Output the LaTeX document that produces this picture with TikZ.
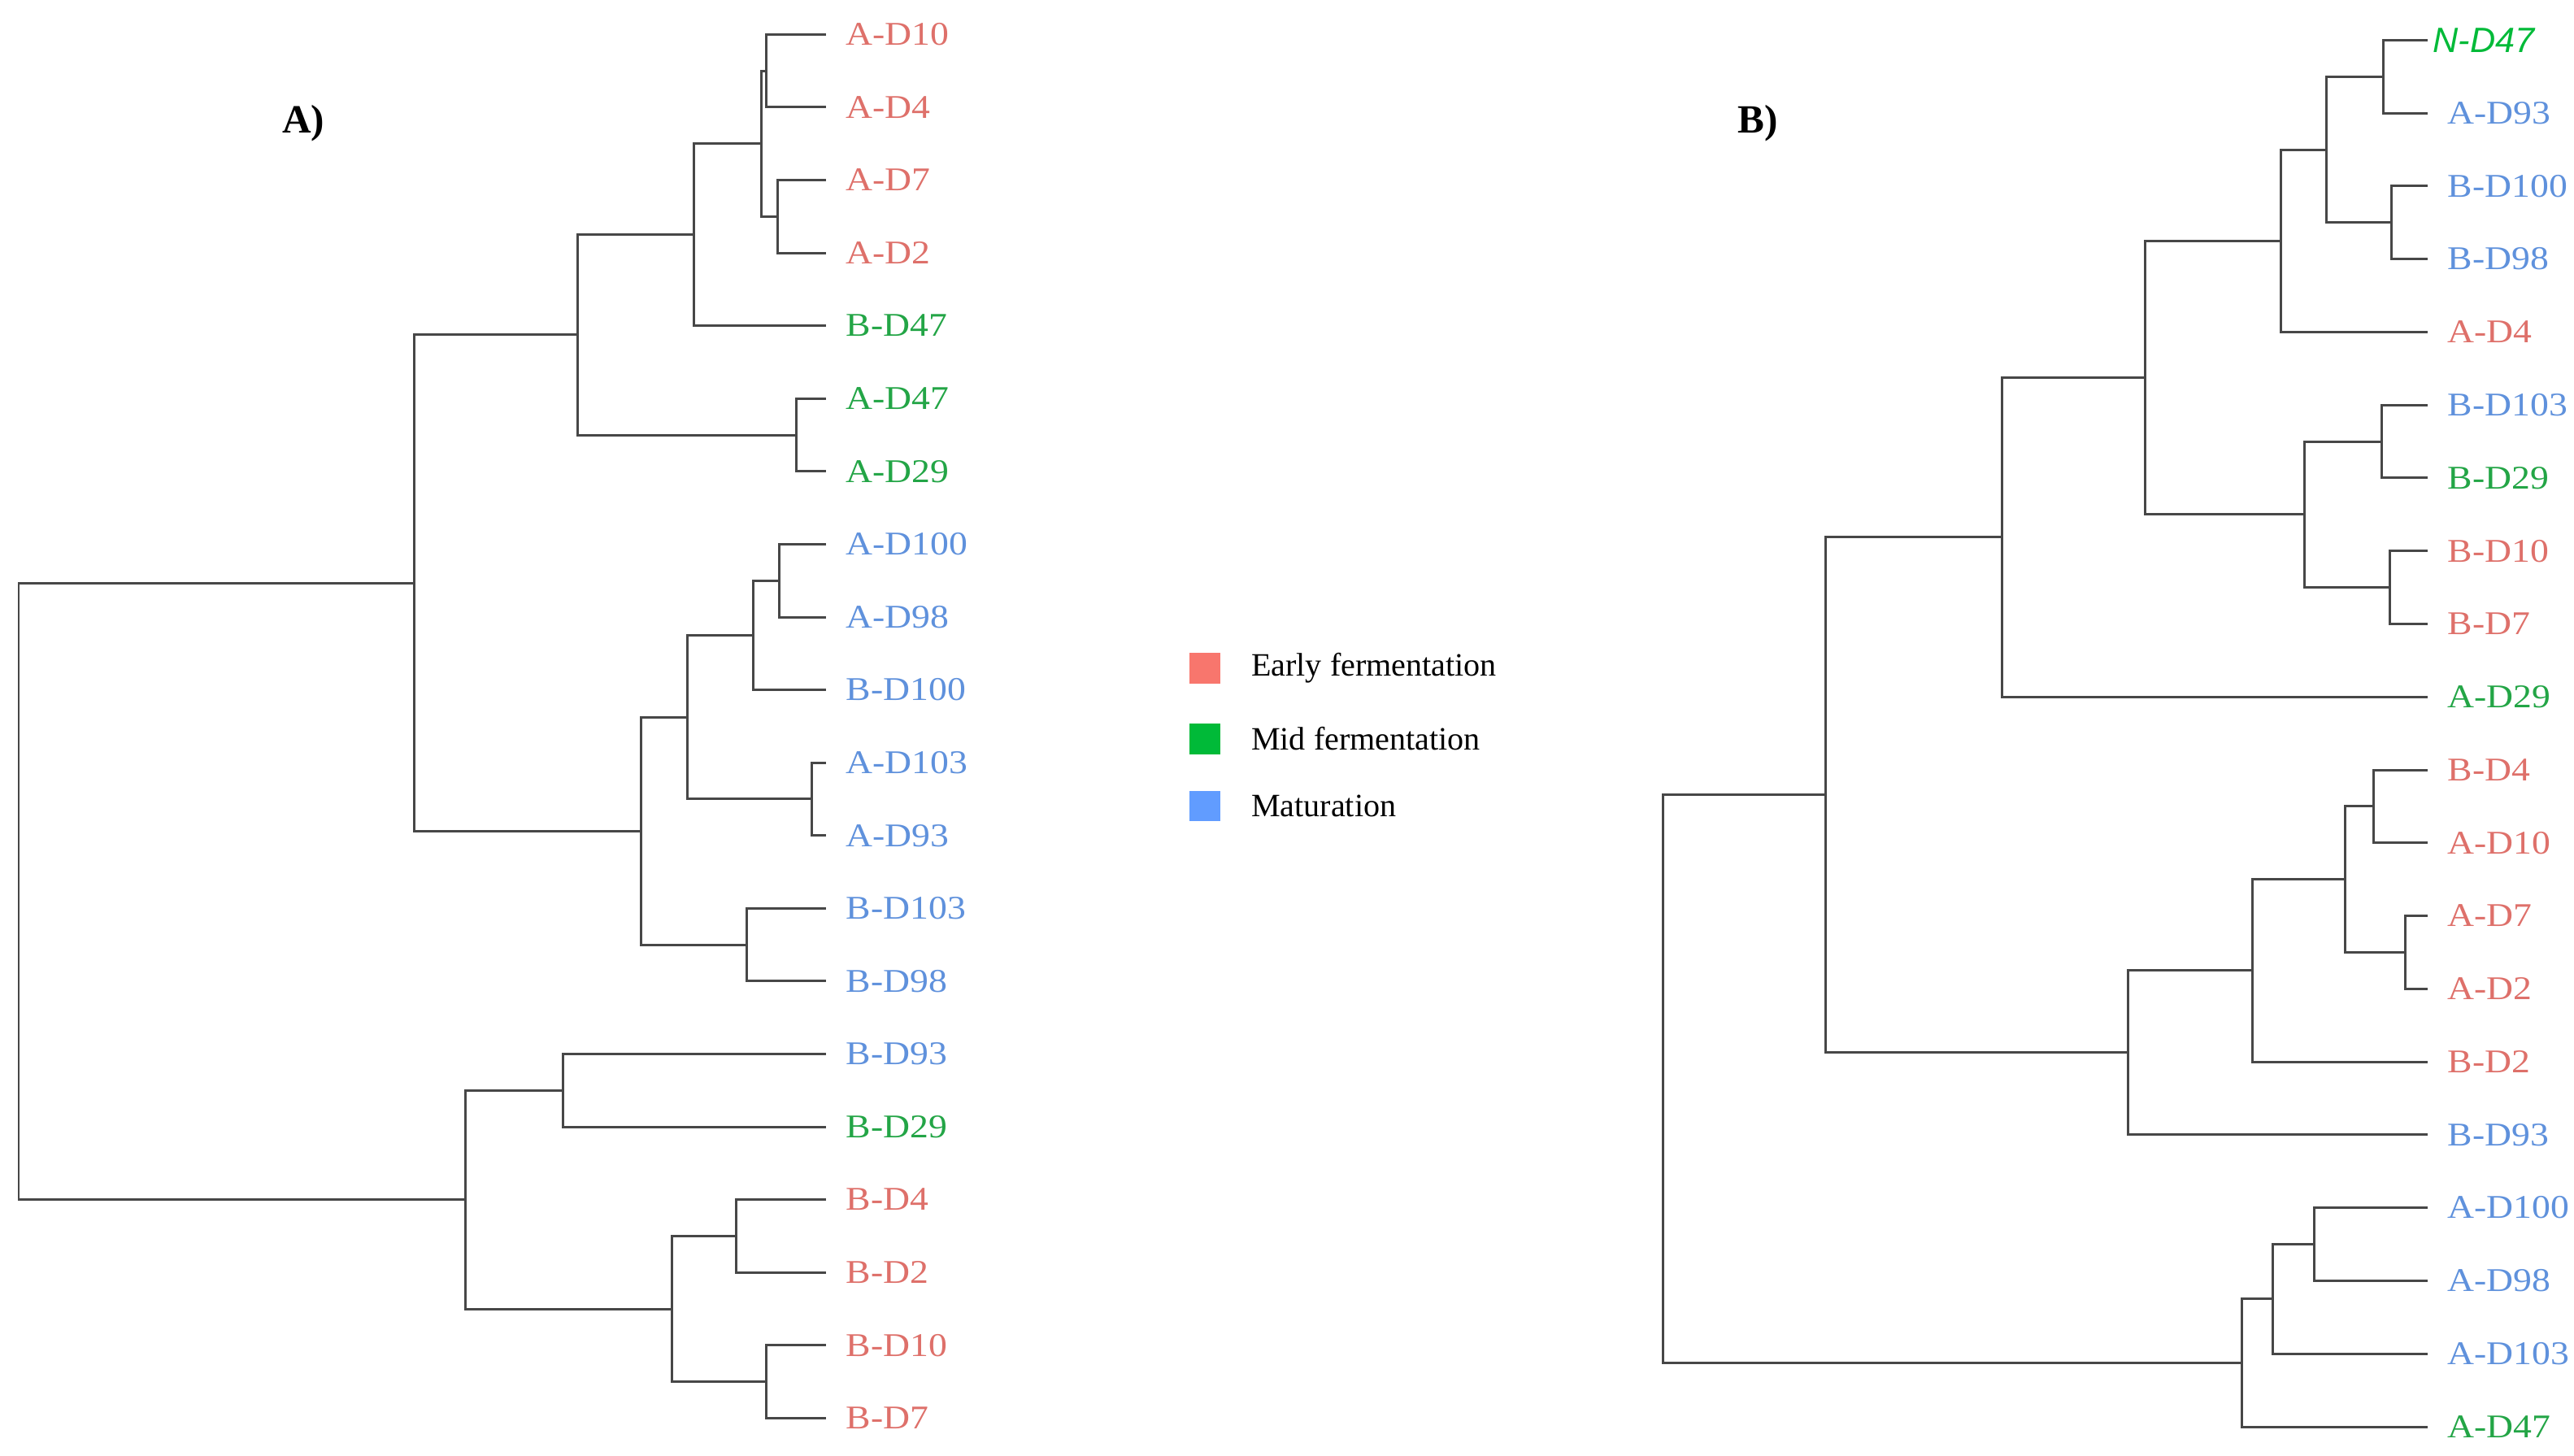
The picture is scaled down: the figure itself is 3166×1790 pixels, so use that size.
\documentclass[tikz,border=0pt]{standalone}
\usepackage{fontspec}
\setmainfont{Liberation Serif}
\newfontfamily\leaffont{Liberation Serif}[FakeStretch=1.12]
\newfontfamily\ndfont{Liberation Sans}
\usetikzlibrary{positioning}
\definecolor{early}{RGB}{222,112,106}
\definecolor{mid}{RGB}{35,165,70}
\definecolor{mat}{RGB}{95,145,220}
\definecolor{earlyfill}{RGB}{248,118,109}
\definecolor{midfill}{RGB}{0,186,56}
\definecolor{matfill}{RGB}{97,156,255}

\begin{document}
\begin{tikzpicture}[x=0.01cm,y=-0.01cm,
  branch/.style={draw=black!72,line width=0.85pt},
  leaf/.style={anchor=west,inner xsep=0.24cm,inner ysep=0pt,font=\leaffont\fontsize{11.6}{13}\selectfont},
  swatch/.style={minimum size=0.375cm,inner sep=0pt},
  keytext/.style={inner sep=0pt,font=\fontsize{11.4}{13}\selectfont},
  title/.style={font=\bfseries\fontsize{14}{16}\selectfont}]
\useasboundingbox (0,0) rectangle (3166,1790);

% titles
\node [title] (titA) at (373,152) {A)};
\node [title] (titB) at (2162,152) {B)};

% tree A, leaves
\node [leaf,text=early] (aAD10) at (1016,42.3) {A-D10};
\node [leaf,text=early] (aAD4) at (1016,131.9) {A-D4};
\node [leaf,text=early] (aAD7) at (1016,221.5) {A-D7};
\node [leaf,text=early] (aAD2) at (1016,311.0) {A-D2};
\node [leaf,text=mid] (aBD47) at (1016,400.6) {B-D47};
\node [leaf,text=mid] (aAD47) at (1016,490.2) {A-D47};
\node [leaf,text=mid] (aAD29) at (1016,579.8) {A-D29};
\node [leaf,text=mat] (aAD100) at (1016,669.4) {A-D100};
\node [leaf,text=mat] (aAD98) at (1016,759.0) {A-D98};
\node [leaf,text=mat] (aBD100) at (1016,848.5) {B-D100};
\node [leaf,text=mat] (aAD103) at (1016,938.1) {A-D103};
\node [leaf,text=mat] (aAD93) at (1016,1027.7) {A-D93};
\node [leaf,text=mat] (aBD103) at (1016,1117.3) {B-D103};
\node [leaf,text=mat] (aBD98) at (1016,1206.8) {B-D98};
\node [leaf,text=mat] (aBD93) at (1016,1296.4) {B-D93};
\node [leaf,text=mid] (aBD29) at (1016,1386.0) {B-D29};
\node [leaf,text=early] (aBD4) at (1016,1475.6) {B-D4};
\node [leaf,text=early] (aBD2) at (1016,1565.2) {B-D2};
\node [leaf,text=early] (aBD10) at (1016,1654.7) {B-D10};
\node [leaf,text=early] (aBD7) at (1016,1744.3) {B-D7};

% tree A, joins
\coordinate (aN1) at (942,87.1);
\coordinate (aN2) at (956,266.3);
\coordinate (aN3) at (936,176.7);
\coordinate (aN4) at (853,288.7);
\coordinate (aN5) at (979,535.0);
\coordinate (aN6) at (710,411.8);
\coordinate (aN7) at (958,714.2);
\coordinate (aN8) at (926,781.4);
\coordinate (aN9) at (998,982.9);
\coordinate (aN10) at (845,882.1);
\coordinate (aN11) at (918,1162.1);
\coordinate (aN12) at (788,1022.1);
\coordinate (aN13) at (509,717.0);
\coordinate (aN14) at (692,1341.2);
\coordinate (aN15) at (905,1520.4);
\coordinate (aN16) at (942,1699.5);
\coordinate (aN17) at (826,1610.0);
\coordinate (aN18) at (572,1475.6);
\coordinate (aRoot) at (23,1096.3);

\draw [branch] (aN1) |- (aAD10.west) (aN1) |- (aAD4.west);
\draw [branch] (aN2) |- (aAD7.west) (aN2) |- (aAD2.west);
\draw [branch] (aN3) |- (aN1) (aN3) |- (aN2);
\draw [branch] (aN4) |- (aN3) (aN4) |- (aBD47.west);
\draw [branch] (aN5) |- (aAD47.west) (aN5) |- (aAD29.west);
\draw [branch] (aN6) |- (aN4) (aN6) |- (aN5);
\draw [branch] (aN7) |- (aAD100.west) (aN7) |- (aAD98.west);
\draw [branch] (aN8) |- (aN7) (aN8) |- (aBD100.west);
\draw [branch] (aN9) |- (aAD103.west) (aN9) |- (aAD93.west);
\draw [branch] (aN10) |- (aN8) (aN10) |- (aN9);
\draw [branch] (aN11) |- (aBD103.west) (aN11) |- (aBD98.west);
\draw [branch] (aN12) |- (aN10) (aN12) |- (aN11);
\draw [branch] (aN13) |- (aN6) (aN13) |- (aN12);
\draw [branch] (aN14) |- (aBD93.west) (aN14) |- (aBD29.west);
\draw [branch] (aN15) |- (aBD4.west) (aN15) |- (aBD2.west);
\draw [branch] (aN16) |- (aBD10.west) (aN16) |- (aBD7.west);
\draw [branch] (aN17) |- (aN15) (aN17) |- (aN16);
\draw [branch] (aN18) |- (aN14) (aN18) |- (aN17);
\draw [branch] (aRoot) |- (aN13) (aRoot) |- (aN18);

% legend
\node [swatch,fill=earlyfill] (swEarly) at (1482,822) {};
\node [swatch,fill=midfill] (swMid) at (1482,909) {};
\node [swatch,fill=matfill] (swMat) at (1482,991.5) {};
\node [keytext,right=0.37cm of swEarly] (txEarly) {Early fermentation};
\node [keytext,right=0.37cm of swMid] (txMid) {Mid fermentation};
\node [keytext,right=0.37cm of swMat] (txMat) {Maturation};

% tree B, leaves
\node [leaf,inner xsep=0.06cm,text=midfill,font=\ndfont\itshape\fontsize{12.3}{14}\selectfont] (bND47) at (2986,49.3) {N-D47};
\node [leaf,text=mat] (bAD93) at (2986,139.1) {A-D93};
\node [leaf,text=mat] (bBD100) at (2986,228.8) {B-D100};
\node [leaf,text=mat] (bBD98) at (2986,318.6) {B-D98};
\node [leaf,text=early] (bAD4) at (2986,408.4) {A-D4};
\node [leaf,text=mat] (bBD103) at (2986,498.2) {B-D103};
\node [leaf,text=mid] (bBD29) at (2986,587.9) {B-D29};
\node [leaf,text=early] (bBD10) at (2986,677.7) {B-D10};
\node [leaf,text=early] (bBD7) at (2986,767.5) {B-D7};
\node [leaf,text=mid] (bAD29) at (2986,857.2) {A-D29};
\node [leaf,text=early] (bBD4) at (2986,947.0) {B-D4};
\node [leaf,text=early] (bAD10) at (2986,1036.8) {A-D10};
\node [leaf,text=early] (bAD7) at (2986,1126.5) {A-D7};
\node [leaf,text=early] (bAD2) at (2986,1216.3) {A-D2};
\node [leaf,text=early] (bBD2) at (2986,1306.1) {B-D2};
\node [leaf,text=mat] (bBD93) at (2986,1395.9) {B-D93};
\node [leaf,text=mat] (bAD100) at (2986,1485.6) {A-D100};
\node [leaf,text=mat] (bAD98) at (2986,1575.4) {A-D98};
\node [leaf,text=mat] (bAD103) at (2986,1665.2) {A-D103};
\node [leaf,text=mid] (bAD47) at (2986,1755.0) {A-D47};

% tree B, joins
\coordinate (bN1) at (2931,94.2);
\coordinate (bN2) at (2941,273.7);
\coordinate (bN3) at (2861,184.0);
\coordinate (bN4) at (2805,296.2);
\coordinate (bN5) at (2929,543.1);
\coordinate (bN6) at (2939,722.6);
\coordinate (bN7) at (2834,632.9);
\coordinate (bN8) at (2638,464.6);
\coordinate (bN9) at (2462,660.9);
\coordinate (bN10) at (2919,991.9);
\coordinate (bN11) at (2958,1171.4);
\coordinate (bN12) at (2884,1081.7);
\coordinate (bN13) at (2770,1193.9);
\coordinate (bN14) at (2617,1294.9);
\coordinate (bN15) at (2245,977.9);
\coordinate (bN16) at (2846,1530.5);
\coordinate (bN17) at (2795,1597.9);
\coordinate (bN18) at (2757,1676.4);
\coordinate (bRoot) at (2045,1327.2);

\draw [branch] (bN1) |- (bND47.west) (bN1) |- (bAD93.west);
\draw [branch] (bN2) |- (bBD100.west) (bN2) |- (bBD98.west);
\draw [branch] (bN3) |- (bN1) (bN3) |- (bN2);
\draw [branch] (bN4) |- (bN3) (bN4) |- (bAD4.west);
\draw [branch] (bN5) |- (bBD103.west) (bN5) |- (bBD29.west);
\draw [branch] (bN6) |- (bBD10.west) (bN6) |- (bBD7.west);
\draw [branch] (bN7) |- (bN5) (bN7) |- (bN6);
\draw [branch] (bN8) |- (bN4) (bN8) |- (bN7);
\draw [branch] (bN9) |- (bN8) (bN9) |- (bAD29.west);
\draw [branch] (bN10) |- (bBD4.west) (bN10) |- (bAD10.west);
\draw [branch] (bN11) |- (bAD7.west) (bN11) |- (bAD2.west);
\draw [branch] (bN12) |- (bN10) (bN12) |- (bN11);
\draw [branch] (bN13) |- (bN12) (bN13) |- (bBD2.west);
\draw [branch] (bN14) |- (bN13) (bN14) |- (bBD93.west);
\draw [branch] (bN15) |- (bN9) (bN15) |- (bN14);
\draw [branch] (bN16) |- (bAD100.west) (bN16) |- (bAD98.west);
\draw [branch] (bN17) |- (bN16) (bN17) |- (bAD103.west);
\draw [branch] (bN18) |- (bN17) (bN18) |- (bAD47.west);
\draw [branch] (bRoot) |- (bN15) (bRoot) |- (bN18);
\end{tikzpicture}
\end{document}
